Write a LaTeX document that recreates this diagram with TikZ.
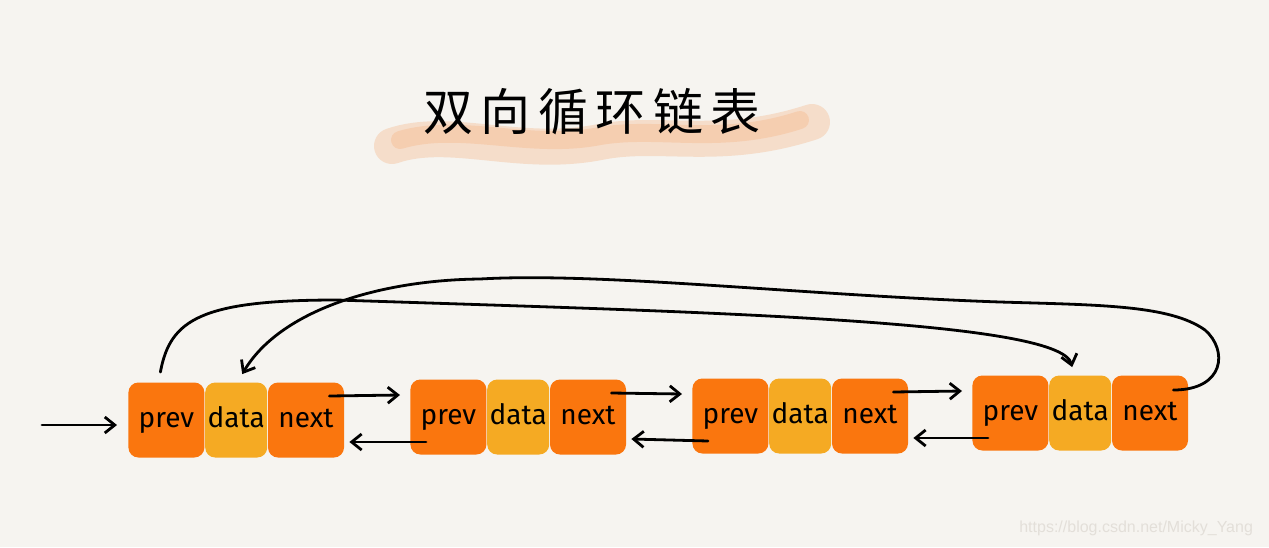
\documentclass[tikz,border=0pt]{standalone}
\usepackage{fontspec}
\setmainfont{Fira Sans}
\newfontfamily\cjk{Noto Sans CJK SC}[LetterSpace=15]
\newfontfamily\wmfont{Liberation Sans}
\usetikzlibrary{positioning,arrows.meta}
\definecolor{bgcol}{HTML}{F6F4F0}
\definecolor{ptrorange}{HTML}{FA760E}
\definecolor{dataorange}{HTML}{F5AA23}
\definecolor{brush}{HTML}{F5C29C}
\definecolor{wmgray}{HTML}{E3DFD9}
\tikzset{
  cell/.style={rounded corners=5pt, inner sep=0pt, minimum height=37.5pt,
    text height=10pt, text depth=3pt, font=\fontsize{14}{16}\selectfont},
  ptrcell/.style={cell, fill=ptrorange, minimum width=38pt},
  datacell/.style={cell, fill=dataorange, minimum width=31pt},
  link/.style={-{Straight Barb[length=5pt,width=8pt]}, line width=1.4pt, line cap=round}
}
\begin{document}
\begin{tikzpicture}[x=0.5pt,y=-0.5pt]
    \fill[bgcol] (0,0) rectangle (1269,547);
    \useasboundingbox (0,0) rectangle (1269,547);

    % title with brush stroke
    \draw[brush, line width=18pt, line cap=round, opacity=.45]
      (392,146) .. controls (450,126) and (520,158) .. (600,142)
      .. controls (660,130) and (720,152) .. (812,122);
    \draw[brush, line width=9pt, line cap=round, opacity=.55]
      (400,140) .. controls (460,122) and (530,150) .. (600,136)
      .. controls (660,126) and (720,146) .. (800,120);
    \node (title) at (592,112) {\cjk\fontsize{25}{30}\selectfont 双向循环链表};

    % list nodes: prev | data | next
    \foreach \i/\x/\y in {1/128/420, 2/410/417, 3/692/416, 4/972/413}{
      \node[ptrcell, anchor=west] (p\i) at (\x,\y) {prev};
      \node[datacell, right=0pt of p\i] (d\i) {data};
      \node[ptrcell, right=0pt of d\i] (n\i) {next};
    }

    % head pointer
    \coordinate (head) at (42,425);
    \draw[link] (head) -- ([xshift=-5.5pt,yshift=-2.5pt]p1.west);

    % next and prev links between neighbours
    \foreach \i/\j in {1/2, 2/3, 3/4}{
      \draw[link] ([xshift=-7.5pt,yshift=12pt]n\i.east) -- ([xshift=-5pt,yshift=11pt]p\j.west);
      \draw[link] ([xshift=8pt,yshift=-12.5pt]p\j.west) -- ([xshift=2.5pt,yshift=-11pt]n\i.east);
    }

    % first prev -> last node
    \draw[link] ([xshift=-3pt,yshift=5pt]p1.north)
      .. controls (170,320) and (200,300) .. (337,300)
      .. controls (700,312) and (1060,320) .. ([xshift=-4pt,yshift=4pt]d4.north);
    % last next -> first node
    \draw[link] ([xshift=-7.5pt,yshift=11.5pt]n4.east)
      .. controls (1225,390) and (1228,350) .. (1205,330)
      .. controls (1170,305) and (1100,305) .. (1000,302)
      .. controls (800,295) and (600,272) .. (480,279)
      .. controls (380,280) and (280,310) .. ([xshift=3pt,yshift=4pt]d1.north);

    % watermark
    \node[wmgray, font=\wmfont\fontsize{8}{10}\selectfont, anchor=east] (mark) at (1260,528) {https://blog.csdn.net/Micky\_Yang};
\end{tikzpicture}
\end{document}
